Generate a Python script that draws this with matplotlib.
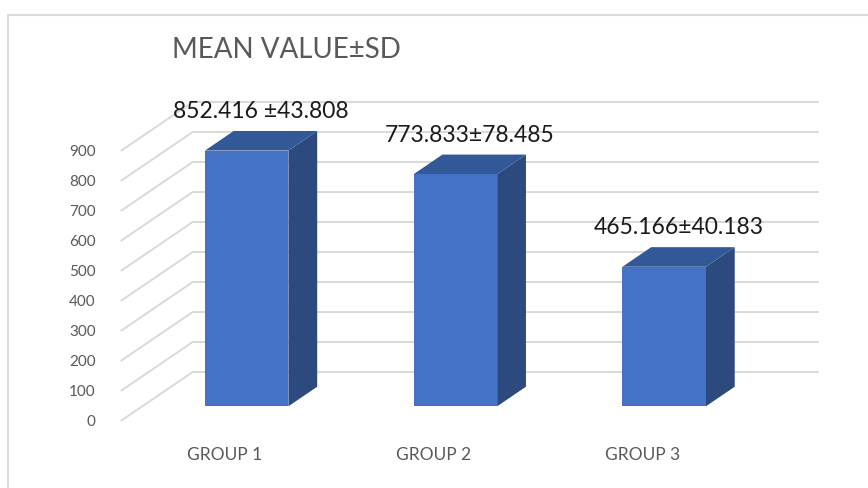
import numpy as np
import matplotlib.pyplot as plt
from matplotlib.patches import Polygon
from matplotlib.lines import Line2D

plt.rcParams['font.family'] = ['Lato', 'DejaVu Sans']

# data
groups = ['GROUP 1', 'GROUP 2', 'GROUP 3']
means = [852.416, 773.833, 465.166]
sds = [43.808, 78.485, 40.183]
bar_labels = ['852.416 ±43.808', '773.833±78.485', '465.166±40.183']
yticks = np.arange(0, 1000, 100)

# oblique "3D" projection: depth d in [0,1] shifts right and up
DX, DY = 0.345, 163.3
def proj(c, v, d):
    return c + DX * d, v + DY * d

fig = plt.figure(figsize=(8.68, 4.89), dpi=100)
ax = fig.add_axes([0, 0, 1, 1])
ax.set_xlim(-1.078, 3.080)
ax.set_ylim(-223.3, 1406.7)
ax.axis('off')

grid = '#d9d9d9'
txt = '#595959'

# side wall + back wall gridlines
for v in yticks:
    x0, y0 = proj(-0.5, v, 0)
    x1, y1 = proj(-0.5, v, 1)
    x2, y2 = proj(2.5, v, 1)
    ax.plot([x0, x1, x2], [y0, y1, y2], color=grid, lw=1.4, solid_capstyle='butt')
    ax.text(x0 - 0.12, v, f'{v}', ha='right', va='center', fontsize=11, color=txt)

# bars
w, d0, d1 = 0.4, 0.3, 0.7
for i, m in enumerate(means):
    front = [proj(i - w/2, 0, d0), proj(i + w/2, 0, d0), proj(i + w/2, m, d0), proj(i - w/2, m, d0)]
    top = [proj(i - w/2, m, d0), proj(i + w/2, m, d0), proj(i + w/2, m, d1), proj(i - w/2, m, d1)]
    side = [proj(i + w/2, 0, d0), proj(i + w/2, 0, d1), proj(i + w/2, m, d1), proj(i + w/2, m, d0)]
    ax.add_patch(Polygon(side, closed=True, fc='#2c4a7e', ec='none', zorder=3))
    ax.add_patch(Polygon(top, closed=True, fc='#335898', ec='none', zorder=3))
    ax.add_patch(Polygon(front, closed=True, fc='#4472c4', ec='none', zorder=3))
    lx, ly = proj(i, m, 0.5)
    ax.text(lx, ly + 100, bar_labels[i], ha='center', va='center', fontsize=16.5, color='#1a1a1a', zorder=4)
    gx, gy = proj(i, -110, 0)
    ax.text(gx, gy, groups[i], ha='center', va='center', fontsize=12.5, color=txt)

fig.text(172/868, 1 - 50/489, 'MEAN VALUE±SD', ha='left', va='center', fontsize=20, color=txt)

# chart area border
fig.add_artist(Line2D([8/868, 8/868, 1], [0, 1 - 16/489, 1 - 16/489],
                      color=grid, lw=1.5, transform=fig.transFigure))

fig.savefig('out.png', dpi=100)
